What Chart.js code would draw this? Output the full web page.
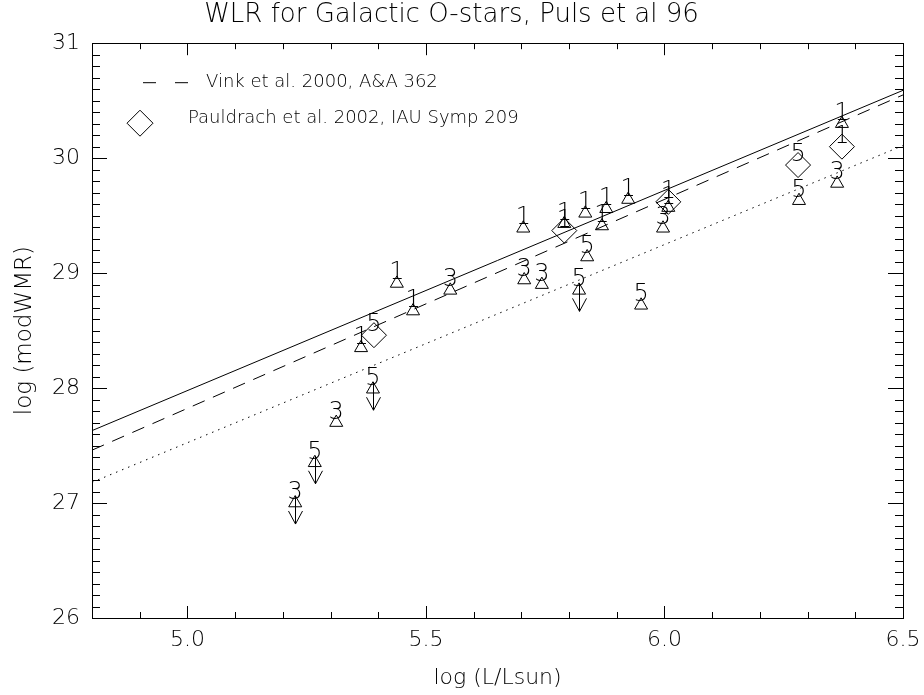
<!DOCTYPE html>
<html><head><meta charset="utf-8">
<script src="https://cdn.jsdelivr.net/npm/chart.js@4"></script>
<style>html,body{margin:0;padding:0;background:#fff}#wrap{width:924px;height:695px}</style>
</head><body><div id="wrap"><canvas id="c" width="924" height="695"></canvas></div>
<script>
// ---- data ----
const chartTitle = 'WLR for Galactic O-stars, Puls et al 96';
const xTitle = 'log (L/Lsun)';
const yTitle = 'log (modWMR)';
const xMin = 4.8, xMax = 6.5, yMin = 26, yMax = 31;
const xTickValues = [5.0, 5.5, 6.0, 6.5];
const yTickValues = [26, 27, 28, 29, 30, 31];

// Puls et al. 96 stars (triangles), luminosity class labels, upper limits
const starLogL   = [5.226, 5.267, 5.312, 5.389, 5.364, 5.439, 5.473, 5.551, 5.704, 5.706, 5.743, 5.790, 5.821, 5.834, 5.838, 5.869, 5.878, 5.924, 5.951, 5.997, 6.008, 6.282, 6.362, 6.372];
const starLogWMR = [27.00, 27.35, 27.70, 27.99, 28.35, 28.91, 28.67, 28.85, 29.39, 28.94, 28.90, 29.43, 28.85, 29.52, 29.14, 29.41, 29.56, 29.64, 28.72, 29.39, 29.57, 29.63, 29.78, 30.30];
const starClass  = [3, 5, 3, 5, 1, 1, 1, 3, 1, 3, 3, 1, 5, 1, 5, 1, 1, 1, 5, 3, 1, 5, 3, 1];
const starUpper  = [1, 1, 0, 1, 0, 0, 0, 0, 0, 0, 0, 0, 1, 0, 0, 0, 0, 0, 0, 0, 0, 0, 0, 0];

// Pauldrach et al. 2002 (diamonds)
const paulLogL   = [5.391, 5.790, 6.008, 6.280, 6.372];
const paulLogWMR = [28.46, 29.37, 29.62, 29.94, 30.10];
const paulClass  = [5, 1, 1, 5, 1];

// relations (end points at xMin, xMax)
const lineLogL   = [4.8, 6.5];
const pulsFit    = [27.63, 30.59];  // solid
const vinkFit    = [27.46, 30.55];  // dashed
const dottedFit  = [27.18, 30.11];  // dotted

const legendLabels = ['Vink et al. 2000, A&A 362', 'Pauldrach et al. 2002, IAU Symp 209'];

// ---- style ----
const FAM = '"DejaVu Sans", sans-serif';
const WT = 200;
const pts = (xs, ys) => xs.map((x, i) => ({x: x, y: ys[i]}));

const bgPlugin = {
  id: 'bg',
  beforeDraw(chart) {
    const c = chart.ctx; c.save(); c.fillStyle = '#fff';
    c.fillRect(0, 0, chart.width, chart.height); c.restore();
  }
};

const framePlugin = {
  id: 'frame',
  afterDraw(chart) {
    const c = chart.ctx, a = chart.chartArea, xs = chart.scales.x, ys = chart.scales.y;
    c.save();
    c.strokeStyle = '#000'; c.lineWidth = 1;
    c.strokeRect(Math.round(a.left) + 0.5, Math.round(a.top) + 0.5, Math.round(a.right - a.left), Math.round(a.bottom - a.top));
    c.beginPath();
    for (let k = 0; k <= Math.round((xMax - xMin) * 10); k++) {
      const v = xMin + k / 10;
      const major = Math.abs(v * 2 - Math.round(v * 2)) < 1e-6;
      const L = major ? 12 : 6;
      const px = Math.round(xs.getPixelForValue(v)) + 0.5;
      c.moveTo(px, a.bottom); c.lineTo(px, a.bottom - L);
      c.moveTo(px, a.top); c.lineTo(px, a.top + L);
    }
    for (let k = 0; k <= Math.round((yMax - yMin) * 10); k++) {
      const v = yMin + k / 10;
      const major = Math.abs(v - Math.round(v)) < 1e-6;
      const L = major ? 15 : 8;
      const py = Math.round(ys.getPixelForValue(v)) + 0.5;
      c.moveTo(a.left, py); c.lineTo(a.left + L, py);
      c.moveTo(a.right, py); c.lineTo(a.right - L, py);
    }
    c.stroke();
    c.restore();
  }
};

const labelPlugin = {
  id: 'labels',
  afterDatasetsDraw(chart) {
    const c = chart.ctx, xs = chart.scales.x, ys = chart.scales.y;
    c.save();
    c.fillStyle = '#000'; c.strokeStyle = '#000'; c.lineWidth = 1;
    c.font = WT + ' 24px ' + FAM;
    c.textAlign = 'center'; c.textBaseline = 'alphabetic';
    const put = (xv, yv, t) => {
      c.fillText(String(t), xs.getPixelForValue(xv), ys.getPixelForValue(yv) - 4);
    };
    starLogL.forEach((x, i) => put(x, starLogWMR[i], starClass[i]));
    paulLogL.forEach((x, i) => put(x, paulLogWMR[i], paulClass[i]));
    // upper-limit arrows
    c.beginPath();
    starLogL.forEach((x, i) => {
      if (!starUpper[i]) return;
      const px = Math.round(xs.getPixelForValue(x)) + 0.5, py = ys.getPixelForValue(starLogWMR[i]);
      c.moveTo(px, py - 7); c.lineTo(px, py + 21);
      c.moveTo(px - 7, py + 8); c.lineTo(px, py + 21); c.lineTo(px + 7, py + 8);
    });
    c.stroke();
    c.restore();
  }
};

const legendPlugin = {
  id: 'ownLegend',
  afterDraw(chart) {
    const c = chart.ctx, a = chart.chartArea;
    c.save();
    c.strokeStyle = '#000'; c.fillStyle = '#000'; c.lineWidth = 1;
    const y1 = a.top + 39, y2 = a.top + 80;
    c.setLineDash([13, 19]);
    c.beginPath(); c.moveTo(a.left + 51, y1 + 0.5); c.lineTo(a.left + 98, y1 + 0.5); c.stroke();
    c.setLineDash([]);
    const dx = a.left + 48;
    c.beginPath(); c.moveTo(dx - 13, y2); c.lineTo(dx, y2 - 13); c.lineTo(dx + 13, y2); c.lineTo(dx, y2 + 13); c.closePath(); c.stroke();
    c.font = WT + ' 18px ' + FAM;
    c.textAlign = 'left'; c.textBaseline = 'middle';
    c.fillText(legendLabels[0], a.left + 114, y1);
    c.fillText(legendLabels[1], a.left + 96, y2 - 5);
    c.restore();
  }
};

const tickFont = {family: FAM, size: 22, weight: WT};
const titleFont = {family: FAM, size: 22, weight: WT};

new Chart(document.getElementById('c'), {
  type: 'scatter',
  data: {
    datasets: [
      {type: 'line', label: 'Puls', data: pts(lineLogL, pulsFit), borderColor: '#000', borderWidth: 1, pointRadius: 0, fill: false},
      {type: 'line', label: 'Vink', data: pts(lineLogL, vinkFit), borderColor: '#000', borderWidth: 1, borderDash: [13, 9], pointRadius: 0, fill: false},
      {type: 'line', label: 'dotted', data: pts(lineLogL, dottedFit), borderColor: '#000', borderWidth: 1, borderDash: [1.5, 5], pointRadius: 0, fill: false},
      {label: 'Puls et al 96', data: pts(starLogL, starLogWMR), pointStyle: 'triangle', pointRadius: 7.5, borderColor: '#000', borderWidth: 1, backgroundColor: 'rgba(0,0,0,0)'},
      {label: 'Pauldrach', data: pts(paulLogL, paulLogWMR), pointStyle: 'rectRot', pointRadius: 12.5, borderColor: '#000', borderWidth: 1, backgroundColor: 'rgba(0,0,0,0)'}
    ]
  },
  options: {
    responsive: false, animation: false, events: [],
    layout: {padding: {left: 0, right: 21, top: 0, bottom: 0}},
    plugins: {
      legend: {display: false}, tooltip: {enabled: false},
      title: {display: true, text: chartTitle, color: '#000', font: {family: FAM, size: 26, weight: WT}, padding: {top: 0, bottom: 12}}
    },
    scales: {
      x: {
        type: 'linear', min: xMin, max: xMax,
        afterBuildTicks: s => { s.ticks = xTickValues.map(v => ({value: v})); },
        ticks: {callback: v => Number(v).toFixed(1), color: '#000', font: tickFont, padding: 9, autoSkip: false, maxRotation: 0},
        grid: {display: false, drawTicks: false}, border: {display: false},
        title: {display: true, text: xTitle, color: '#000', font: titleFont, padding: {top: 0, bottom: 4}},
        afterFit: s => { s.height = 77; s.paddingLeft = 0; s.paddingRight = 0; }
      },
      y: {
        type: 'linear', min: yMin, max: yMax,
        afterBuildTicks: s => { s.ticks = yTickValues.map(v => ({value: v})); },
        ticks: {callback: v => String(v), color: '#000', font: tickFont, padding: 12},
        grid: {display: false, drawTicks: false}, border: {display: false},
        title: {display: true, text: yTitle, color: '#000', font: {family: FAM, size: 23, weight: WT}, padding: {top: 11, bottom: 0}},
        afterFit: s => { s.width = 92; s.paddingTop = 0; s.paddingBottom = 0; }
      }
    }
  },
  plugins: [bgPlugin, framePlugin, labelPlugin, legendPlugin]
});
</script>
</body></html>
